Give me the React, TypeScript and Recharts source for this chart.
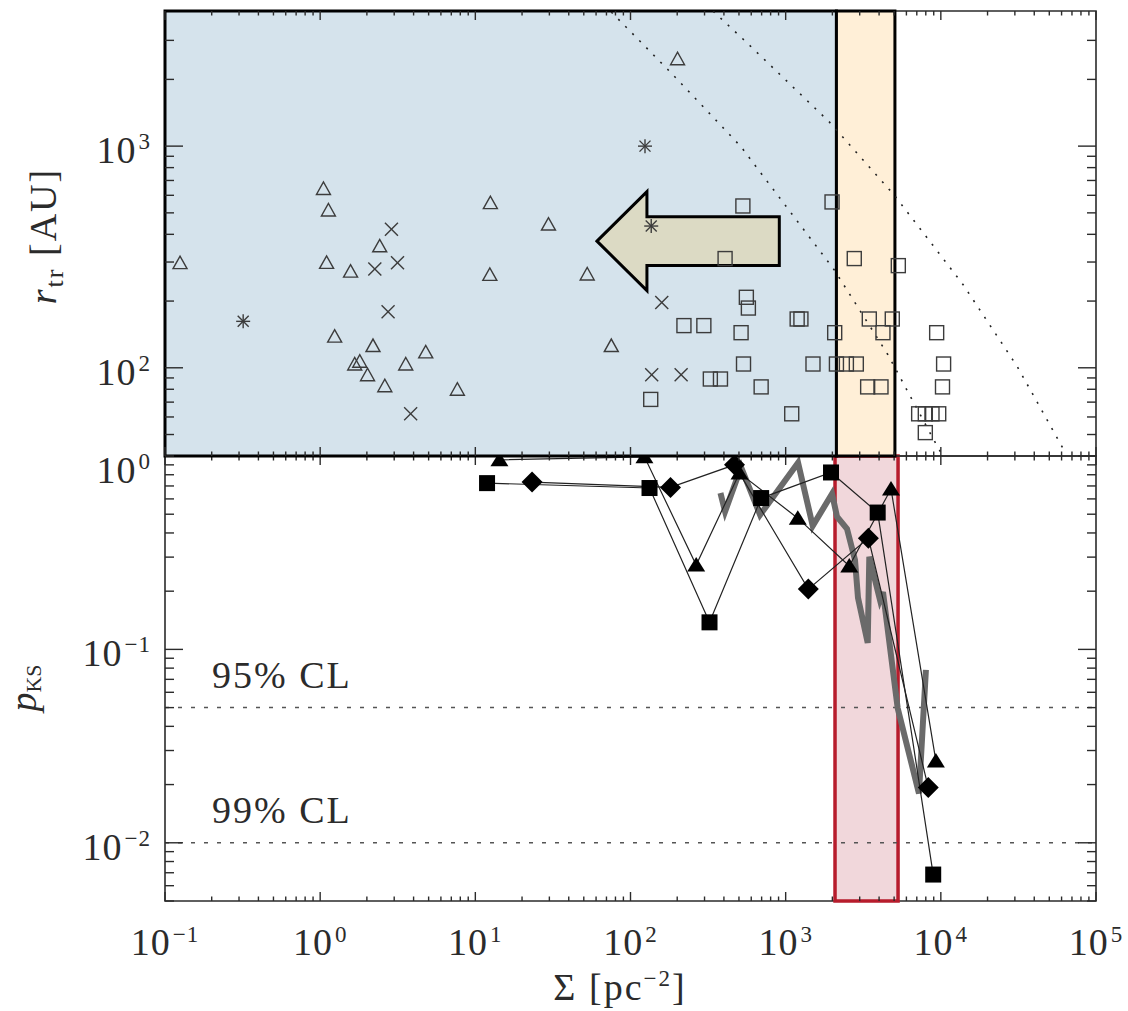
import React from "react";
import {
  ComposedChart,
  Line,
  ReferenceArea,
  ReferenceLine,
  Scatter,
  XAxis,
  YAxis,
} from "recharts";

// ---- upper panel: r_tr vs. Sigma, one pair of arrays per marker type ----
const triSigma = [0.125, 1.05, 1.13, 1.1, 1.57, 2.42, 1.24, 2.19, 1.67, 1.8, 2.02, 2.61, 3.56, 4.79, 7.66, 12.5, 29.6, 12.4, 52.6, 75.2, 201];
const triR = [298, 644, 515, 299, 273, 355, 139, 126, 104, 107, 93, 83, 104, 118, 80, 556, 445, 264, 265, 126, 2480];

const starSigma = [0.319, 124, 136];
const starR = [162, 1000, 436];

const crossSigma = [2.25, 2.74, 2.88, 3.15, 3.83, 137, 159, 212];
const crossR = [279, 179, 422, 298, 62, 93, 197, 93];

const sqSigma = [135, 221, 297, 327, 380, 407, 516, 530, 535, 558, 575, 695, 1094, 1186, 1254, 1500, 1990, 2070, 2124, 2462, 2768, 2853, 3376, 3459, 4114, 4236, 4865, 5321, 7196, 7943, 7943, 8770, 9400, 9690, 10250, 10420];
const sqR = [72, 155, 155, 89, 89, 311, 144, 537, 104, 208, 186, 82, 62, 166, 166, 104, 560, 144, 104, 104, 311, 104, 82, 166, 82, 144, 166, 289, 62, 62, 51, 62, 144, 62, 82, 104];

// dotted reference curves
const curveASigma = [341, 556, 1910, 5012, 13930, 31170, 63970];
const curveAR = [4060, 2950, 1286, 601, 237, 101, 41];
const curveBSigma = [75.2, 184.6, 516, 654.6, 2060, 4560, 8995, 10300];
const curveBR = [4027, 2124, 993, 796, 276, 114.5, 47.4, 40];

// shaded bands and arrow (Sigma ranges)
const blueBand = [0.1, 2124];
const orangeBand = [2124, 5060];
const redBand = [2080, 5300];
const arrowSigma = [60.8, 910];
const arrowR = [223, 623];

// ---- lower panel: p_KS vs. Sigma ----
const pSqSigma = [11.9, 132.6, 323, 695, 1960, 3918, 8930];
const pSq = [0.724, 0.683, 0.138, 0.606, 0.822, 0.51, 0.00685];
const pTriSigma = [14.3, 123, 265, 504, 1197, 2570, 4775, 9290];
const pTri = [0.955, 0.99, 0.273, 0.816, 0.477, 0.27, 0.675, 0.0265];
const pDiaSigma = [23.2, 181, 468, 1400, 3412, 8300];
const pDia = [0.733, 0.688, 0.9, 0.205, 0.376, 0.0193];
const pGraySigma = [380, 407, 516, 684, 1202, 1494, 1991, 2143, 2485, 2798, 2925, 3379, 3460, 4054, 4240, 5272, 7228, 8014];
const pGray = [0.643, 0.516, 0.875, 0.496, 0.923, 0.435, 0.638, 0.485, 0.42, 0.29, 0.185, 0.108, 0.301, 0.18, 0.198, 0.0497, 0.018, 0.0783];

const clLevels = [0.05, 0.01];
const clLabels = ["95% CL", "99% CL"];

// ---- axes ----
const xMajor = [0.1, 1, 10, 100, 1000, 10000, 100000];
const xMajorExp = ["\u22121", "0", "1", "2", "3", "4", "5"];
const rMajor = [100, 1000];
const rMajorExp = ["2", "3"];
const rMinor = [40, 50, 60, 70, 80, 90, 200, 300, 400, 500, 600, 700, 800, 900, 2000, 3000];
const pMajor = [0.01, 0.1, 1];
const pMajorExp = ["\u22122", "\u22121", "0"];
const pMinor = [0.005, 0.006, 0.007, 0.008, 0.009, 0.02, 0.03, 0.04, 0.05, 0.06, 0.07, 0.08, 0.09, 0.2, 0.3, 0.4, 0.5, 0.6, 0.7, 0.8, 0.9];
const mult = [2, 3, 4, 5, 6, 7, 8, 9];
const xTicks = [...xMajor, ...xMajor.slice(0, -1).flatMap((d) => mult.map((m) => m * d))];

const W = 1128;
const H = 1011;
const LEFT = 165;
const RIGHT = 1096;
const TOP = 11;
const MID = 456;
const BOTTOM = 901;
const AXIS_H = 30;

const INK = "#2b2b2b";
const MARK = "#3c3c3c";
const FONT = "'Liberation Serif', 'Times New Roman', serif";
const FS = 38;
const FS_SUP = 23;

const pts = (xs: number[], ys: number[]) => xs.map((x, i) => ({ x, y: ys[i] }));

function makeXTick(plotTop: number, plotBottom: number, labels: boolean) {
  return function XTick(props: any) {
    const { x, payload } = props;
    const i = xMajor.indexOf(payload.value);
    const len = i >= 0 ? 9 : 4.5;
    return (
      <g>
        <line x1={x} x2={x} y1={plotBottom} y2={plotBottom - len} stroke={INK} strokeWidth={1.4} />
        <line x1={x} x2={x} y1={plotTop} y2={plotTop + len} stroke={INK} strokeWidth={1.4} />
        {labels && i >= 0 && (
          <text x={x} y={955} textAnchor="middle" fontFamily={FONT} fontSize={FS} fill={INK} letterSpacing={1}>
            10
            <tspan dx={2} dy={-13} fontSize={FS_SUP}>{xMajorExp[i]}</tspan>
          </text>
        )}
      </g>
    );
  };
}

function makeYTick(major: number[], exps: string[]) {
  return function YTick(props: any) {
    const { y, payload } = props;
    const i = major.indexOf(payload.value);
    const len = i >= 0 ? 18 : 9;
    const dy = payload.value === 1 ? 27 : 17;
    return (
      <g>
        <line x1={LEFT} x2={LEFT + len} y1={y} y2={y} stroke={INK} strokeWidth={1.4} />
        <line x1={RIGHT - len} x2={RIGHT} y1={y} y2={y} stroke={INK} strokeWidth={1.4} />
        {i >= 0 && (
          <text x={151} y={y + dy} textAnchor="end" fontFamily={FONT} fontSize={FS} fill={INK} letterSpacing={1}>
            10
            <tspan dx={2} dy={-14} fontSize={FS_SUP}>{exps[i]}</tspan>
          </text>
        )}
      </g>
    );
  };
}

const OpenTriangle = ({ cx, cy }: any) => (
  <polygon
    points={`${cx - 7},${cy + 6} ${cx + 7},${cy + 6} ${cx},${cy - 6.5}`}
    fill="none"
    stroke={MARK}
    strokeWidth={1.4}
  />
);

const OpenSquare = ({ cx, cy }: any) => (
  <rect x={cx - 7} y={cy - 7} width={14} height={14} fill="none" stroke={MARK} strokeWidth={1.4} />
);

const Cross = ({ cx, cy }: any) => (
  <g stroke={MARK} strokeWidth={1.4}>
    <line x1={cx - 6.5} x2={cx + 6.5} y1={cy - 6.5} y2={cy + 6.5} />
    <line x1={cx - 6.5} x2={cx + 6.5} y1={cy + 6.5} y2={cy - 6.5} />
  </g>
);

const Asterisk = ({ cx, cy }: any) => (
  <g stroke={MARK} strokeWidth={1.4}>
    <line x1={cx - 7} x2={cx + 7} y1={cy} y2={cy} />
    <line x1={cx} x2={cx} y1={cy - 7} y2={cy + 7} />
    <line x1={cx - 5.5} x2={cx + 5.5} y1={cy - 5.5} y2={cy + 5.5} />
    <line x1={cx - 5.5} x2={cx + 5.5} y1={cy + 5.5} y2={cy - 5.5} />
  </g>
);

const FilledSquare = ({ cx, cy }: any) => <rect x={cx - 8} y={cy - 8} width={16} height={16} fill="#000" />;
const FilledDiamond = ({ cx, cy }: any) => (
  <polygon points={`${cx},${cy - 10.5} ${cx + 10.5},${cy} ${cx},${cy + 10.5} ${cx - 10.5},${cy}`} fill="#000" />
);
const FilledTriangle = ({ cx, cy }: any) => (
  <polygon points={`${cx - 9},${cy + 6.5} ${cx + 9},${cy + 6.5} ${cx},${cy - 8}`} fill="#000" />
);

function ArrowShape(props: any) {
  const { x, y, width, height } = props;
  const hx = x + width * 0.274;
  const s1 = y + height * 0.2525;
  const s2 = y + height * 0.7475;
  const p = [
    [x, y + height / 2],
    [hx, y],
    [hx, s1],
    [x + width, s1],
    [x + width, s2],
    [hx, s2],
    [hx, y + height],
  ];
  return (
    <polygon
      points={p.map((q) => q.join(",")).join(" ")}
      fill="#dcdac4"
      stroke="#000"
      strokeWidth={3}
    />
  );
}

const RTitle = () => (
  <text
    x={56}
    y={236}
    transform="rotate(-90 56 236)"
    textAnchor="middle"
    fontFamily={FONT}
    fontSize={FS}
    fill={INK}
    letterSpacing={2}
  >
    <tspan fontStyle="italic">r</tspan>
    <tspan fontSize={26} dy={7}>tr</tspan>
    <tspan dy={-7}> [AU]</tspan>
  </text>
);

const PTitle = () => (
  <text
    x={36}
    y={688}
    transform="rotate(-90 36 688)"
    textAnchor="middle"
    fontFamily={FONT}
    fontSize={FS}
    fill={INK}
  >
    <tspan fontStyle="italic">p</tspan>
    <tspan fontSize={22} dy={5}>KS</tspan>
  </text>
);

const XTitle = () => (
  <text x={620} y={1000} textAnchor="middle" fontFamily={FONT} fontSize={FS} fill={INK} letterSpacing={2}>
    {"\u03A3 [pc"}
    <tspan dy={-14} fontSize={FS_SUP}>{"\u22122"}</tspan>
    <tspan dy={14}>]</tspan>
  </text>
);

const ClLabel = ({ viewBox, text }: any) => (
  <text x={viewBox.x + 47} y={viewBox.y - 20} fontFamily={FONT} fontSize={FS} fill={INK} letterSpacing={2}>
    {text}
  </text>
);

const TopXTick = makeXTick(TOP, MID, false);
const BottomXTick = makeXTick(MID, BOTTOM, true);
const RTick = makeYTick(rMajor, rMajorExp);
const PTick = makeYTick(pMajor, pMajorExp);

export default function App() {
  const rDomain = [40, 4070];
  const pDomain = [0.005, 1];
  return (
    <div style={{ position: "absolute", left: 0, top: 0, width: W, height: H, background: "#fff" }}>
      <div style={{ position: "absolute", left: 0, top: 0 }}>
        <ComposedChart
          width={W}
          height={H}
          margin={{ top: MID, right: W - RIGHT, bottom: H - BOTTOM - AXIS_H, left: 0 }}
        >
          <ReferenceArea x1={xMajor[0]} x2={xMajor[6]} y1={pDomain[0]} y2={pDomain[1]} fill="none" stroke={INK} strokeWidth={1.6} />
          <ReferenceArea x1={redBand[0]} x2={redBand[1]} y1={pDomain[0]} y2={pDomain[1]} fill="#f1d7db" fillOpacity={1} stroke="#b71c2c" strokeWidth={3.5} />
          {clLevels.map((lv, i) => (
            <ReferenceLine
              key={lv}
              y={lv}
              stroke="#555"
              strokeWidth={1.5}
              strokeDasharray="4 9"
              label={<ClLabel text={clLabels[i]} />}
            />
          ))}
          <Line data={pts(pGraySigma, pGray)} dataKey="y" stroke="#6a6a6a" strokeWidth={6} dot={false} activeDot={false} isAnimationActive={false} />
          <Line
            data={pts(pSqSigma, pSq)}
            dataKey="y"
            stroke="#222"
            strokeWidth={1.2}
            dot={(p: any) => <FilledSquare key={`s${p.index}`} cx={p.cx} cy={p.cy} />}
            activeDot={false}
            isAnimationActive={false}
          />
          <Line
            data={pts(pTriSigma, pTri)}
            dataKey="y"
            stroke="#222"
            strokeWidth={1.2}
            dot={(p: any) => <FilledTriangle key={`t${p.index}`} cx={p.cx} cy={p.cy} />}
            activeDot={false}
            isAnimationActive={false}
          />
          <Line
            data={pts(pDiaSigma, pDia)}
            dataKey="y"
            stroke="#222"
            strokeWidth={1.2}
            dot={(p: any) => <FilledDiamond key={`d${p.index}`} cx={p.cx} cy={p.cy} />}
            activeDot={false}
            isAnimationActive={false}
          />
          <XAxis
            dataKey="x"
            type="number"
            scale="log"
            domain={[xMajor[0], xMajor[6]]}
            allowDataOverflow
            ticks={xTicks}
            interval={0}
            height={AXIS_H}
            tickSize={0}
            tickMargin={0}
            axisLine={false}
            tickLine={false}
            tick={(p: any) => <BottomXTick {...p} />}
            label={<XTitle />}
          />
          <YAxis
            dataKey="y"
            type="number"
            scale="log"
            domain={pDomain}
            allowDataOverflow
            ticks={[...pMajor, ...pMinor]}
            interval={0}
            width={LEFT}
            tickSize={0}
            tickMargin={0}
            axisLine={false}
            tickLine={false}
            tick={(p: any) => <PTick {...p} />}
            label={<PTitle />}
          />
        </ComposedChart>
      </div>
      <div style={{ position: "absolute", left: 0, top: 0 }}>
        <ComposedChart
          width={W}
          height={H}
          margin={{ top: TOP, right: W - RIGHT, bottom: H - MID - AXIS_H, left: 0 }}
        >
          <ReferenceArea x1={xMajor[0]} x2={xMajor[6]} y1={rDomain[0]} y2={rDomain[1]} fill="none" stroke={INK} strokeWidth={1.6} />
          <ReferenceArea x1={blueBand[0]} x2={blueBand[1]} y1={rDomain[0]} y2={rDomain[1]} fill="#d5e3ec" fillOpacity={1} stroke="#000" strokeWidth={3} />
          <ReferenceArea x1={orangeBand[0]} x2={orangeBand[1]} y1={rDomain[0]} y2={rDomain[1]} fill="#ffefd7" fillOpacity={1} stroke="#000" strokeWidth={3} />
          <ReferenceArea
            x1={arrowSigma[0]}
            x2={arrowSigma[1]}
            y1={arrowR[0]}
            y2={arrowR[1]}
            shape={(p: any) => <ArrowShape {...p} />}
          />
          <Line data={pts(curveASigma, curveAR)} dataKey="y" stroke="#222" strokeWidth={1.6} strokeDasharray="2 8" dot={false} activeDot={false} isAnimationActive={false} />
          <Line data={pts(curveBSigma, curveBR)} dataKey="y" stroke="#222" strokeWidth={1.6} strokeDasharray="2 8" dot={false} activeDot={false} isAnimationActive={false} />
          <Scatter data={pts(triSigma, triR)} shape={(p: any) => <OpenTriangle {...p} />} isAnimationActive={false} />
          <Scatter data={pts(starSigma, starR)} shape={(p: any) => <Asterisk {...p} />} isAnimationActive={false} />
          <Scatter data={pts(crossSigma, crossR)} shape={(p: any) => <Cross {...p} />} isAnimationActive={false} />
          <Scatter data={pts(sqSigma, sqR)} shape={(p: any) => <OpenSquare {...p} />} isAnimationActive={false} />
          <XAxis
            dataKey="x"
            type="number"
            scale="log"
            domain={[xMajor[0], xMajor[6]]}
            allowDataOverflow
            ticks={xTicks}
            interval={0}
            height={AXIS_H}
            tickSize={0}
            tickMargin={0}
            axisLine={false}
            tickLine={false}
            tick={(p: any) => <TopXTick {...p} />}
          />
          <YAxis
            dataKey="y"
            type="number"
            scale="log"
            domain={rDomain}
            allowDataOverflow
            ticks={[...rMajor, ...rMinor]}
            interval={0}
            width={LEFT}
            tickSize={0}
            tickMargin={0}
            axisLine={false}
            tickLine={false}
            tick={(p: any) => <RTick {...p} />}
            label={<RTitle />}
          />
        </ComposedChart>
      </div>
    </div>
  );
}
